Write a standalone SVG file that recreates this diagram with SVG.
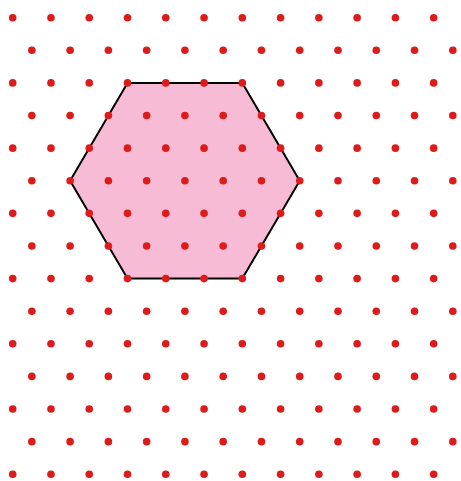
<svg xmlns="http://www.w3.org/2000/svg" xmlns:xlink="http://www.w3.org/1999/xlink" width="461" height="481" viewBox="0 0 461 481">
<style>
.dot{fill:#dd1b1b}
.hex{fill:#f7bbd6;stroke:#000;stroke-width:2;stroke-linejoin:miter}
</style>
<defs>
<g id="evenRow">
<circle class="dot" cx="12.7" cy="0" r="3.8"/><circle class="dot" cx="50.97" cy="0" r="3.8"/><circle class="dot" cx="89.24" cy="0" r="3.8"/><circle class="dot" cx="127.51" cy="0" r="3.8"/><circle class="dot" cx="165.78" cy="0" r="3.8"/><circle class="dot" cx="204.05" cy="0" r="3.8"/><circle class="dot" cx="242.32" cy="0" r="3.8"/><circle class="dot" cx="280.59" cy="0" r="3.8"/><circle class="dot" cx="318.86" cy="0" r="3.8"/><circle class="dot" cx="357.13" cy="0" r="3.8"/><circle class="dot" cx="395.4" cy="0" r="3.8"/><circle class="dot" cx="433.67" cy="0" r="3.8"/>
</g>
<g id="oddRow">
<circle class="dot" cx="31.84" cy="0" r="3.8"/><circle class="dot" cx="70.11" cy="0" r="3.8"/><circle class="dot" cx="108.38" cy="0" r="3.8"/><circle class="dot" cx="146.65" cy="0" r="3.8"/><circle class="dot" cx="184.92" cy="0" r="3.8"/><circle class="dot" cx="223.19" cy="0" r="3.8"/><circle class="dot" cx="261.46" cy="0" r="3.8"/><circle class="dot" cx="299.73" cy="0" r="3.8"/><circle class="dot" cx="338" cy="0" r="3.8"/><circle class="dot" cx="376.27" cy="0" r="3.8"/><circle class="dot" cx="414.54" cy="0" r="3.8"/><circle class="dot" cx="452.81" cy="0" r="3.8"/>
</g>
</defs>
<rect width="461" height="481" fill="#fff"/>
<g id="hexagon">
<polygon class="hex" points="127.51,82.92 242.32,82.92 299.73,180.75 242.32,278.58 127.51,278.58 70.11,180.75"/>
</g>
<g id="lattice">
<use xlink:href="#evenRow" href="#evenRow" y="17.7"/>
<use xlink:href="#oddRow" href="#oddRow" y="50.31"/>
<use xlink:href="#evenRow" href="#evenRow" y="82.92"/>
<use xlink:href="#oddRow" href="#oddRow" y="115.53"/>
<use xlink:href="#evenRow" href="#evenRow" y="148.14"/>
<use xlink:href="#oddRow" href="#oddRow" y="180.75"/>
<use xlink:href="#evenRow" href="#evenRow" y="213.36"/>
<use xlink:href="#oddRow" href="#oddRow" y="245.97"/>
<use xlink:href="#evenRow" href="#evenRow" y="278.58"/>
<use xlink:href="#oddRow" href="#oddRow" y="311.19"/>
<use xlink:href="#evenRow" href="#evenRow" y="343.8"/>
<use xlink:href="#oddRow" href="#oddRow" y="376.41"/>
<use xlink:href="#evenRow" href="#evenRow" y="409.02"/>
<use xlink:href="#oddRow" href="#oddRow" y="441.63"/>
<use xlink:href="#evenRow" href="#evenRow" y="474.24"/>
</g>
</svg>
